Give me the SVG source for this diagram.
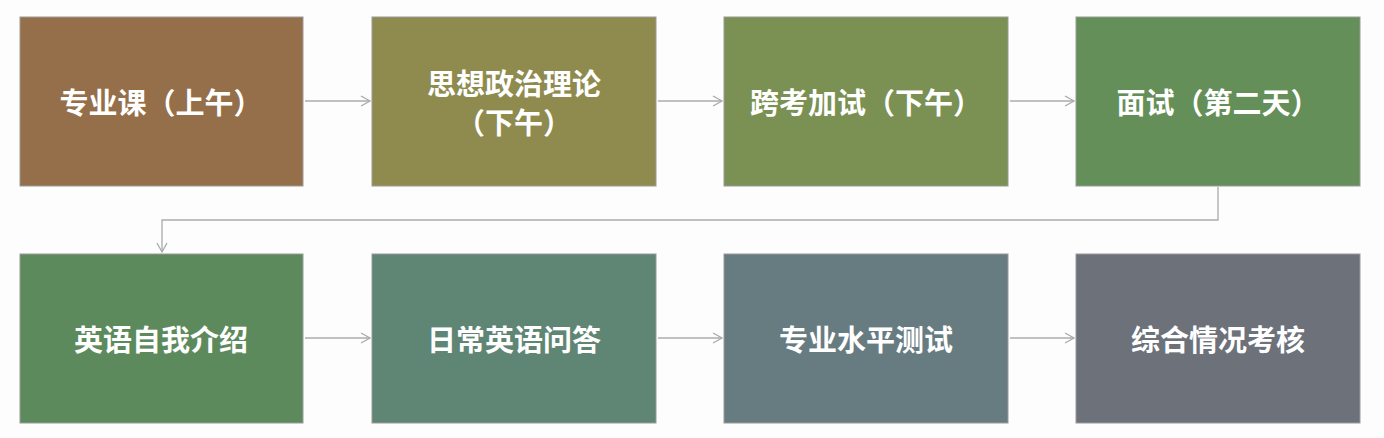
<svg xmlns="http://www.w3.org/2000/svg" width="1384" height="438" viewBox="0 0 1384 438">
<style>
.b{stroke:#9a9a9a;stroke-width:1}
.t{fill:#fff;font-family:"Noto Sans CJK SC",sans-serif;font-weight:bold;font-size:29px;text-anchor:middle;dominant-baseline:central}
.c{fill:none;stroke:#a8aca8;stroke-width:1.3}
</style>
<defs><marker id="a" markerWidth="12" markerHeight="12" refX="10" refY="6" orient="auto" markerUnits="userSpaceOnUse"><path d="M1,1 L10,6 L1,11" fill="none" stroke="#a8aca8" stroke-width="1.3"/></marker></defs>
<rect width="1384" height="438" fill="#fdfdfd"/>
<g id="n1"><rect class="b" x="20" y="17" width="283" height="169" fill="#946f4a"/><text class="t" x="161" y="101">专业课（上午）</text></g>
<g id="n2"><rect class="b" x="372" y="17" width="284" height="169" fill="#8f8b4f"/><text class="t" x="514" y="82">思想政治理论</text><text class="t" x="514" y="121">（下午）</text></g>
<g id="n3"><rect class="b" x="724" y="17" width="284" height="169" fill="#7b9053"/><text class="t" x="866" y="101">跨考加试（下午）</text></g>
<g id="n4"><rect class="b" x="1076" y="17" width="284" height="169" fill="#658f58"/><text class="t" x="1218" y="101">面试（第二天）</text></g>
<g id="n5"><rect class="b" x="20" y="254" width="283" height="169" fill="#5d8a5c"/><text class="t" x="161" y="338">英语自我介绍</text></g>
<g id="n6"><rect class="b" x="372" y="254" width="284" height="169" fill="#5f8574"/><text class="t" x="514" y="338">日常英语问答</text></g>
<g id="n7"><rect class="b" x="724" y="254" width="284" height="169" fill="#677c80"/><text class="t" x="866" y="338">专业水平测试</text></g>
<g id="n8"><rect class="b" x="1076" y="254" width="284" height="169" fill="#6c717a"/><text class="t" x="1218" y="338">综合情况考核</text></g>
<g id="connectors">
<path class="c" d="M305,101 H370" marker-end="url(#a)"/>
<path class="c" d="M658,101 H722" marker-end="url(#a)"/>
<path class="c" d="M1010,101 H1074" marker-end="url(#a)"/>
<path class="c" d="M1218,187 V220 H162 V252" marker-end="url(#a)"/>
<path class="c" d="M305,338 H370" marker-end="url(#a)"/>
<path class="c" d="M658,338 H722" marker-end="url(#a)"/>
<path class="c" d="M1010,338 H1074" marker-end="url(#a)"/>
</g>
</svg>
